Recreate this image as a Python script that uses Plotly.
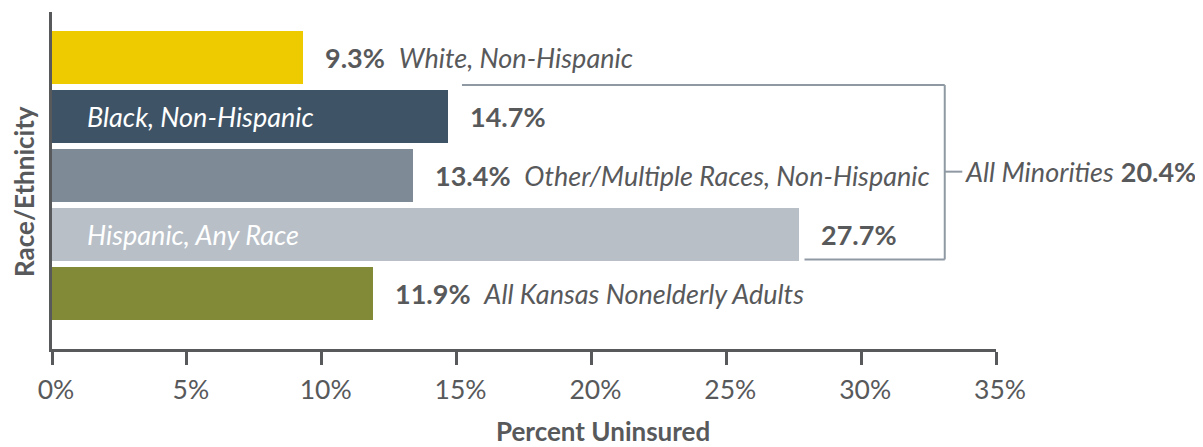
import plotly.graph_objects as go

categories = ["White, Non-Hispanic", "Black, Non-Hispanic",
              "Other/Multiple Races, Non-Hispanic", "Hispanic, Any Race",
              "All Kansas Nonelderly Adults"]
values = [9.3, 14.7, 13.4, 27.7, 11.9]
colors = ["#EECB00", "#3E5366", "#7E8A96", "#B8BFC7", "#828A38"]
inside_label = [False, True, False, True, False]
minorities_value = 20.4
tick_vals = [0, 5, 10, 15, 20, 25, 30, 35]
tick_text = ["0%", "5%", "10%", "15%", "20%", "25%", "30%", "35%"]

TXT = "#58595B"
FONT = "Lato"
FS = 27

# the page body has an 8px margin; build the figure in page coords minus 8
OFF = 8
W, H = 1203 - OFF, 447 - OFF
L, R, T, B = 52 - OFF, 207, 12 - OFF, 98
pw, ph = W - L - R, H - T - B

ypos = list(range(len(categories)))

fig = go.Figure()
fig.add_trace(go.Bar(
    x=values, y=ypos, orientation="h", width=0.9,
    marker=dict(color=colors, line=dict(width=0)),
    hoverinfo="skip", showlegend=False,
))

ann = []
for i, (c, v, inside) in enumerate(zip(categories, values, inside_label)):
    if inside:
        ann.append(dict(x=0, y=i, xref="x", yref="y", xanchor="left", xshift=33,
                        text=f"<i>{c}</i>", showarrow=False,
                        font=dict(family=FONT, size=FS, color="white")))
        ann.append(dict(x=v, y=i, xref="x", yref="y", xanchor="left", xshift=20,
                        text=f"<b>{v:.1f}%</b>", showarrow=False,
                        font=dict(family=FONT, size=FS, color=TXT)))
    else:
        ann.append(dict(x=v, y=i, xref="x", yref="y", xanchor="left", xshift=20,
                        text=f"<b>{v:.1f}%</b>  <i>{c}</i>", showarrow=False,
                        font=dict(family=FONT, size=FS, color=TXT)))

# bracket for minorities (rows 1-3)
BR = "#8E99A3"
bx = 33.1
ytop, ybot, ymid = 0.47, 3.43, 1.94
fig.add_shape(type="line", xref="x", yref="y", x0=15.2, x1=bx, y0=ytop, y1=ytop,
              line=dict(color=BR, width=2))
fig.add_shape(type="line", xref="x", yref="y", x0=bx, x1=bx, y0=ytop, y1=ybot,
              line=dict(color=BR, width=2))
fig.add_shape(type="line", xref="x", yref="y", x0=27.9, x1=bx, y0=ybot, y1=ybot,
              line=dict(color=BR, width=2))
fig.add_shape(type="line", xref="x", yref="y", x0=bx, x1=33.75, y0=ymid, y1=ymid,
              line=dict(color=BR, width=2))
ann.append(dict(x=33.75, y=ymid, xref="x", yref="y", xanchor="left", xshift=1,
                text=f"<i>All Minorities</i> <b>{minorities_value:.1f}%</b>",
                showarrow=False, font=dict(family=FONT, size=FS, color=TXT)))

# axis titles (page pixel positions converted to paper coords)
def paper(px, py):
    return (px - OFF - L) / pw, 1 - (py - OFF - T) / ph

tx, ty = paper(603, 431)
ann.append(dict(x=tx, y=ty, xref="paper", yref="paper", xanchor="center",
                yanchor="middle", text="<b>Percent Uninsured</b>", borderpad=0,
                showarrow=False, font=dict(family=FONT, size=26, color=TXT)))
tx, ty = paper(24, 192)
ann.append(dict(x=tx, y=ty, xref="paper", yref="paper", xanchor="center",
                yanchor="middle", textangle=-90, text="<b>Race/Ethnicity</b>",
                borderpad=0,
                showarrow=False, font=dict(family=FONT, size=26, color=TXT)))

fig.update_layout(
    width=W, height=H,
    margin=dict(l=L, r=R, t=T, b=B),
    plot_bgcolor="white", paper_bgcolor="white",
    annotations=ann,
    xaxis=dict(range=[0, 35], tickvals=tick_vals, ticktext=tick_text,
               showgrid=False, zeroline=False, showline=True, linewidth=3,
               linecolor=TXT, ticks="outside", ticklen=13, tickwidth=3,
               tickcolor=TXT, tickfont=dict(family=FONT, size=26.5, color=TXT),
               ticklabelshift=4, ticklabelstandoff=2, fixedrange=True),
    yaxis=dict(range=[4.95, -0.77], showgrid=False, zeroline=False,
               showline=True, linewidth=3, linecolor=TXT,
               showticklabels=False, ticks="", fixedrange=True),
    bargap=0,
)

fig.write_html("out.html")
